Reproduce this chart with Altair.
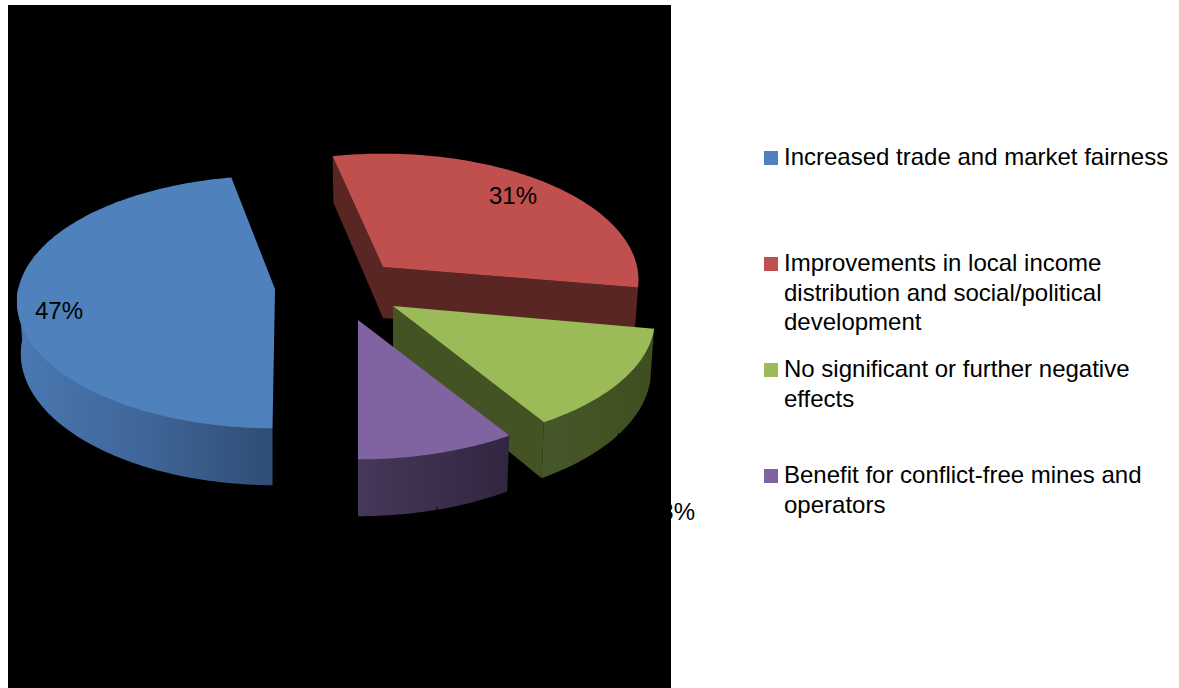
import math
import altair as alt
import pandas as pd

# Survey shares, clockwise from the bottom of the pie
shares = [47, 31, 13, 9]
share_labels = ["47%", "31%", "13%", "9%"]
legend_lines = [
    ["Increased trade and market fairness"],
    ["Improvements in local income", "distribution and social/political", "development"],
    ["No significant or further negative", "effects"],
    ["Benefit for conflict-free mines and", "operators"],
]

TOP_COLORS = ["#4f81bd", "#c0504d", "#9bbb59", "#8064a2"]
SIDE_STOPS = [
    ["#4a78b2", "#3f6698", "#2f4d75"],
    ["#5a2623", "#5a2623", "#552220"],
    ["#46572a", "#435324", "#3f4e20"],
    ["#473759", "#3c2e4d", "#32263f"],
]

# Screen position of each exploded slice's tip, with small per-slice corrections
# of the rim angles (start, end) and of the horizontal radius
TIPS = [(275, 289), (383, 267), (393, 306), (358, 320)]
RIM_SHIFT = [(0.5, 0.0), (-1.8, -1.5), (-0.5, 0.5), (0.0, 0.0)]
RADIUS_FACTOR = [0.995, 0.985, 1.01, 1.0]
LEGEND_Y = [158, 264, 370, 476]
LINE_GAP = 29.7

RX, RY, PERSPECTIVE, DEPTH, PINCH = 258, 125, 0.103, 51, 0.985
START_ANGLE = 180


def project(i, angle, drop=False):
    """Place a point of the tilted disc on screen; angle is clockwise from the back."""
    tip = TIPS[i]
    u = math.sin(math.radians(angle))
    v = math.cos(math.radians(angle))
    s = 1 / (1 + PERSPECTIVE * v)
    dx = RX * RADIUS_FACTOR[i] * u * s
    dy = -RY * v * s
    if drop:
        return tip[0] + dx * PINCH, tip[1] + dy + DEPTH * s
    return tip[0] + dx, tip[1] + dy


def arc(i, a0, a1, drop=False):
    steps = max(2, int(abs(a1 - a0)))
    return [project(i, a0 + (a1 - a0) * k / steps, drop) for k in range(steps + 1)]


def apex(i, drop=False):
    tip = TIPS[i]
    return (tip[0], tip[1] + DEPTH) if drop else tip


angles = []
running = START_ANGLE
for share, shift in zip(shares, RIM_SHIFT):
    angles.append((running + shift[0], running + share * 3.6 + shift[1]))
    running += share * 3.6

X = alt.X("x:Q", scale=alt.Scale(domain=[0, 1179], nice=False, zero=False), axis=None)
Y = alt.Y("y:Q", scale=alt.Scale(domain=[688, 0], nice=False, zero=False), axis=None)


def face(points, fill):
    rows = [{"x": p[0], "y": p[1], "k": i} for i, p in enumerate(points + points[:1])]
    return (
        alt.Chart(pd.DataFrame(rows))
        .mark_line(fill=fill, stroke=None, filled=True, clip=False)
        .encode(x=X, y=Y, order="k:Q")
    )


def side_fill(i):
    stops = SIDE_STOPS[i]
    return alt.Gradient(
        gradient="linear",
        stops=[
            alt.GradientStop(color=stops[0], offset=0),
            alt.GradientStop(color=stops[1], offset=0.5),
            alt.GradientStop(color=stops[2], offset=1),
        ],
        x1=0, x2=1, y1=0, y2=0,
    )


def outer_wall(i, a0, a1):
    # The upper rim is raised a little so the top face, painted later, hides the seam
    upper = [(x, y - 2) for x, y in arc(i, a0, a1)]
    return face(upper + arc(i, a1, a0, True), side_fill(i))


def radial_wall(i, angle):
    return face(
        [apex(i), project(i, angle), project(i, angle, True), apex(i, True)],
        SIDE_STOPS[i][1],
    )


def top(i):
    a0, a1 = angles[i]
    return face([TIPS[i]] + arc(i, a0, a1), TOP_COLORS[i])


backdrop = alt.Chart(pd.DataFrame({"x": [8], "x2": [671], "y": [5], "y2": [688]})).mark_rect(
    color="black"
).encode(x=X, x2="x2:Q", y=Y, y2="y2:Q")

# Back-to-front painting order: red, blue, green, purple
layers = [
    backdrop,
    radial_wall(1, angles[1][0]),
    radial_wall(1, angles[1][1]),
    top(1),
    outer_wall(0, angles[0][0], 270),
    top(0),
    radial_wall(2, angles[2][1]),
    outer_wall(2, angles[2][0], angles[2][1]),
    top(2),
    outer_wall(3, angles[3][0], angles[3][1]),
    top(3),
]

# Data labels are black, so those sitting on the backdrop stay mostly unseen
label_pos = [(59, 312), (513, 197), (671, 513), (437, 530)]
label_df = pd.DataFrame(
    [{"x": p[0], "y": p[1], "t": t} for p, t in zip(label_pos, share_labels)]
)
layers.append(
    alt.Chart(label_df)
    .mark_text(font="Liberation Sans", fontSize=24, color="black", align="center", baseline="middle")
    .encode(x=X, y=Y, text="t:N")
)

leaders = pd.DataFrame({"x": [618, 437], "x2": [650, 437], "y": [433, 507], "y2": [490, 518]})
layers.append(
    alt.Chart(leaders).mark_rule(color="black", strokeWidth=1).encode(x=X, x2="x2:Q", y=Y, y2="y2:Q")
)

# Hand-set legend with wrapped entries
swatches = pd.DataFrame({"x": [771] * 4, "y": LEGEND_Y, "c": TOP_COLORS})
layers.append(
    alt.Chart(swatches)
    .mark_square(size=196, opacity=1, filled=True)
    .encode(x=X, y=Y, color=alt.Color("c:N", scale=None))
)
legend_rows = []
for base, lines in zip(LEGEND_Y, legend_lines):
    for j, line in enumerate(lines):
        legend_rows.append({"x": 784, "y": base + j * LINE_GAP, "t": line})
layers.append(
    alt.Chart(pd.DataFrame(legend_rows))
    .mark_text(font="Liberation Sans", fontSize=24, color="black", align="left", baseline="middle")
    .encode(x=X, y=Y, text="t:N")
)

chart = (
    alt.layer(*layers)
    .properties(width=1179, height=688, padding=0, autosize=alt.AutoSizeParams(type="none"),
                background="white")
    .configure_view(stroke=None)
)

chart.save("out.html", embed_options={"renderer": "svg", "actions": False})
